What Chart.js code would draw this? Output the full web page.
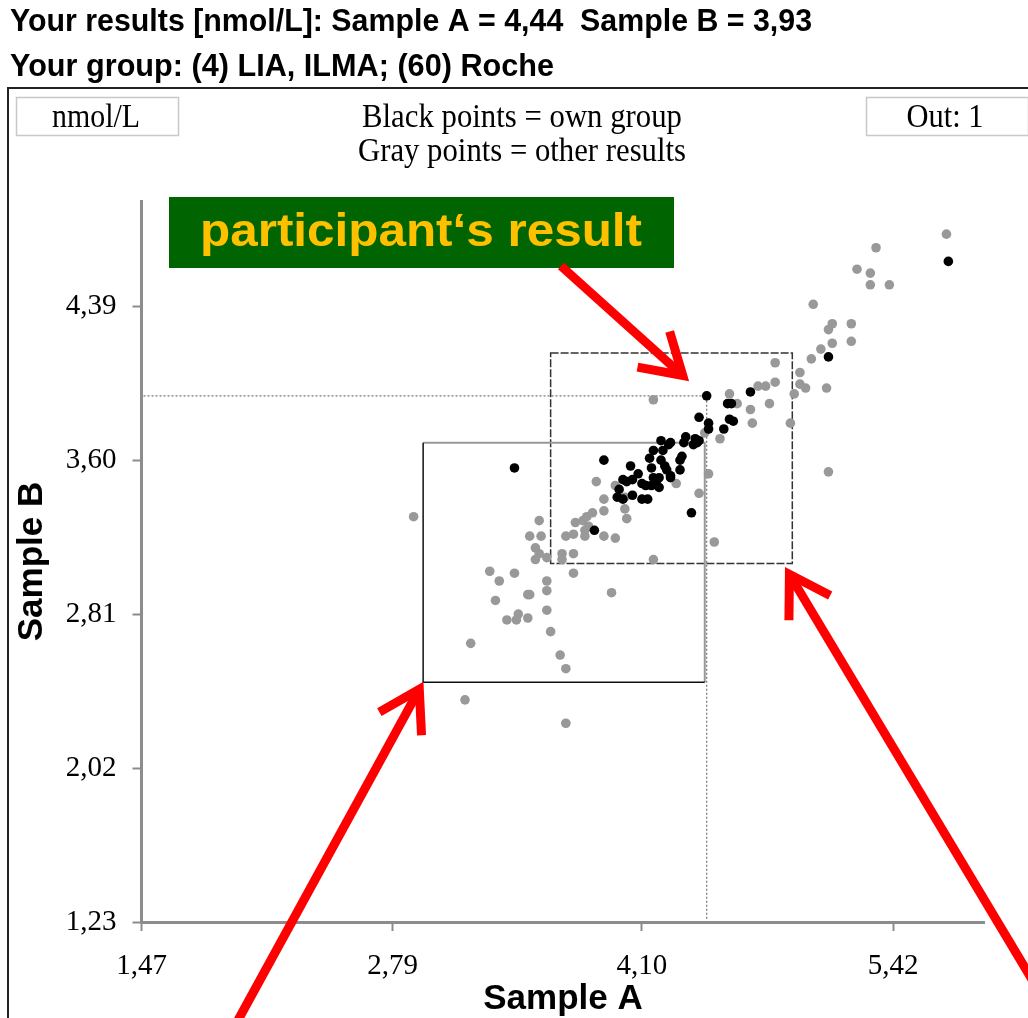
<!DOCTYPE html>
<html>
<head>
<meta charset="utf-8">
<script src="https://cdn.jsdelivr.net/npm/chart.js@4.4.0/dist/chart.umd.min.js"></script>
<style>
  html, body { margin: 0; padding: 0; background: #fff; }
  #wrap { width: 1028px; height: 1018px; }
</style>
</head>
<body>
<div id="wrap"><canvas id="scatter" width="1028" height="1018"></canvas></div>
<script>
// participant's own result
var resultA = 4.44;
var resultB = 3.93;

// own group (black points), Sample A / Sample B in nmol/L
var ownA = [3.43, 3.85, 3.90, 3.97, 4.00, 3.98, 4.00, 4.02, 4.05, 4.05,
            4.04, 4.08, 4.10, 4.12, 4.15, 4.10, 4.13, 4.16, 4.18, 4.19,
            4.19, 4.14, 4.15, 4.16, 4.20, 4.21, 4.20, 4.22, 4.23, 4.25,
            4.25, 4.24, 4.25, 4.30, 4.30, 4.31, 4.32, 4.33, 4.37, 4.38,
            4.39, 4.40, 4.36, 4.40, 4.45, 4.45, 4.53, 4.56, 4.58, 4.55,
            4.57, 4.67, 5.08, 5.71];
var ownB = [3.56, 3.24, 3.60, 3.41, 3.40, 3.45, 3.50, 3.49, 3.50, 3.42,
            3.57, 3.53, 3.48, 3.47, 3.47, 3.40, 3.40, 3.51, 3.50, 3.51,
            3.46, 3.61, 3.56, 3.65, 3.60, 3.65, 3.70, 3.57, 3.55, 3.52,
            3.51, 3.68, 3.69, 3.55, 3.60, 3.62, 3.69, 3.72, 3.68, 3.71,
            3.69, 3.70, 3.33, 3.82, 3.79, 3.76, 3.76, 3.81, 3.80, 3.89,
            3.89, 3.95, 4.13, 4.62];

// all other participants (gray points)
var otherA = [2.90, 3.17, 3.20, 3.30, 3.33, 3.35, 3.39, 3.43, 3.44, 3.45,
              3.50, 3.50, 3.51, 3.51, 3.56, 3.57, 3.54, 3.56, 3.54, 3.60,
              3.60, 3.60, 3.60, 3.62, 3.67, 3.70, 3.70, 3.68, 3.68, 3.74,
              3.74, 3.70, 3.74, 3.75, 3.79, 3.81, 3.84, 3.82, 3.80, 3.80,
              3.90, 3.96, 3.94, 3.90, 3.90, 3.86, 3.96, 4.01, 4.02, 4.01,
              4.16, 4.16, 4.28, 4.40, 4.45, 4.43, 4.51, 4.48, 4.56, 4.60,
              4.67, 4.68, 4.71, 4.75, 4.77, 4.80, 4.80, 4.88, 4.90, 4.93,
              4.93, 4.96, 4.99, 5.04, 5.07, 5.08, 5.08, 5.10, 5.10, 5.20,
              5.20, 5.00, 5.23, 5.30, 5.30, 5.40, 5.33, 5.70];
var otherB = [3.31, 2.37, 2.66, 3.03, 2.88, 2.98, 2.78, 3.02, 2.78, 2.81,
              2.79, 2.91, 2.91, 3.21, 3.29, 3.21, 3.15, 3.12, 3.09, 3.10,
              2.98, 2.93, 2.83, 2.72, 2.60, 2.53, 2.25, 3.12, 3.09, 3.12,
              3.02, 3.21, 3.22, 3.28, 3.29, 3.31, 3.33, 3.26, 3.24, 3.21,
              3.21, 3.20, 2.92, 3.34, 3.40, 3.49, 3.47, 3.35, 3.30, 3.41,
              3.91, 3.09, 3.48, 3.43, 3.53, 3.74, 3.71, 3.18, 3.94, 3.89,
              3.86, 3.79, 3.98, 3.98, 3.89, 4.00, 4.10, 3.79, 3.94, 4.05,
              3.99, 3.97, 4.12, 4.17, 3.97, 3.54, 4.27, 4.30, 4.20, 4.30,
              4.21, 4.40, 4.58, 4.56, 4.50, 4.50, 4.69, 4.76];

var xTicks = [1.47, 2.79, 4.10, 5.42];
var yTicks = [1.23, 2.02, 2.81, 3.60, 4.39];

// limit boxes: [A min, A max, B min, B max]
var solidBox = [2.95, 4.43, 2.46, 3.69];
var dashedBox = [3.62, 4.89, 3.07, 4.15];

var headerLines = ['Your results [nmol/L]: Sample A = ' + fmt(resultA) + '  Sample B = ' + fmt(resultB),
                   'Your group: (4) LIA, ILMA; (60) Roche'];
var legendLines = ['Black points = own group', 'Gray points = other results'];
var unitLabel = 'nmol/L';
var outLabel = 'Out: 1';
var calloutText = 'participant\u2018s result';

function fmt(v) { return v.toFixed(2).replace('.', ','); }

function pairs(a, b) {
  return a.map(function (v, i) { return { x: v, y: b[i] }; });
}

// draws text stretched/squeezed to an exact width
function fitText(ctx, text, x, y, width, align) {
  var w = ctx.measureText(text).width;
  ctx.save();
  ctx.translate(x, y);
  ctx.scale(width / w, 1);
  ctx.textAlign = align;
  ctx.textBaseline = 'middle';
  ctx.fillText(text, 0, 0);
  ctx.restore();
}

function arrow(ctx, x0, y0, x1, y1) {
  var a = Math.atan2(y1 - y0, x1 - x0);
  var len = 46, spread = 0.55;
  // pull the path back so the mitred point lands on the tip
  x1 -= 8 * Math.cos(a); y1 -= 8 * Math.sin(a);
  ctx.beginPath();
  ctx.moveTo(x0, y0);
  ctx.lineTo(x1 - 6 * Math.cos(a), y1 - 6 * Math.sin(a));
  ctx.stroke();
  ctx.beginPath();
  ctx.moveTo(x1 - len * Math.cos(a - spread), y1 - len * Math.sin(a - spread));
  ctx.lineTo(x1, y1);
  ctx.lineTo(x1 - len * Math.cos(a + spread), y1 - len * Math.sin(a + spread));
  ctx.stroke();
}

var decorations = {
  id: 'decorations',
  beforeDraw: function (chart) {
    var ctx = chart.ctx;
    ctx.save();
    ctx.fillStyle = '#fff';
    ctx.fillRect(0, 0, chart.width, chart.height);
    ctx.strokeStyle = '#222';
    ctx.lineWidth = 2;
    ctx.strokeRect(8, 88, 1100, 1000);

    ctx.fillStyle = '#000';
    ctx.font = 'bold 32px "Liberation Sans", Arial, sans-serif';
    fitText(ctx, headerLines[0], 10, 22, 802, 'left');
    fitText(ctx, headerLines[1], 10, 67, 544, 'left');

    ctx.strokeStyle = '#c8c8c8';
    ctx.lineWidth = 1.5;
    ctx.strokeRect(16.5, 97.5, 162, 38);
    ctx.strokeRect(866.5, 97.5, 162, 38);
    ctx.font = '33px "Liberation Serif", "Times New Roman", serif';
    fitText(ctx, unitLabel, 96, 118, 88, 'center');
    fitText(ctx, outLabel, 945, 118, 77, 'center');
    fitText(ctx, legendLines[0], 522, 118, 320, 'center');
    fitText(ctx, legendLines[1], 522, 152, 328, 'center');
    ctx.restore();
  },
  beforeDatasetsDraw: function (chart) {
    var ctx = chart.ctx, sx = chart.scales.x, sy = chart.scales.y;
    var px = function (v) { return sx.getPixelForValue(v); };
    var py = function (v) { return sy.getPixelForValue(v); };
    var area = chart.chartArea;
    ctx.save();

    // dotted guides to the participant's result
    ctx.strokeStyle = '#777';
    ctx.lineWidth = 1.2;
    ctx.setLineDash([2, 2]);
    ctx.beginPath();
    ctx.moveTo(area.left + 2, py(resultB));
    ctx.lineTo(px(resultA), py(resultB));
    ctx.lineTo(px(resultA), area.bottom - 2);
    ctx.stroke();

    // dashed box
    ctx.strokeStyle = '#333';
    ctx.lineWidth = 1.5;
    ctx.setLineDash([8, 2]);
    ctx.strokeRect(px(dashedBox[0]), py(dashedBox[3]),
                   px(dashedBox[1]) - px(dashedBox[0]), py(dashedBox[2]) - py(dashedBox[3]));

    // solid box: top and right edges gray, the others black
    ctx.setLineDash([]);
    var l = px(solidBox[0]), r = px(solidBox[1]), t = py(solidBox[3]), b = py(solidBox[2]);
    ctx.strokeStyle = '#999';
    ctx.lineWidth = 2;
    ctx.beginPath();
    ctx.moveTo(l, t); ctx.lineTo(r, t); ctx.lineTo(r, b);
    ctx.stroke();
    ctx.strokeStyle = '#111';
    ctx.lineWidth = 1.5;
    ctx.beginPath();
    ctx.moveTo(l, t); ctx.lineTo(l, b); ctx.lineTo(r, b);
    ctx.stroke();
    ctx.restore();
  },
  afterDraw: function (chart) {
    var ctx = chart.ctx, sx = chart.scales.x, sy = chart.scales.y;
    var px = function (v) { return sx.getPixelForValue(v); };
    var py = function (v) { return sy.getPixelForValue(v); };
    ctx.save();

    // callout label
    ctx.fillStyle = '#006400';
    ctx.fillRect(169, 197, 505, 71);
    ctx.fillStyle = '#FFC000';
    ctx.font = 'bold 46px "Liberation Sans", Arial, sans-serif';
    fitText(ctx, calloutText, 421, 233, 442, 'center');

    // red arrows
    ctx.strokeStyle = '#FF0000';
    ctx.lineWidth = 9;
    ctx.lineJoin = 'miter';
    ctx.lineCap = 'butt';
    arrow(ctx, 561, 266, px(resultA) - 18, py(resultB) - 15);
    arrow(ctx, 237, 1022, px(solidBox[0]), py(solidBox[2]));
    arrow(ctx, 1036, 986, px(dashedBox[1]) - 7, py(dashedBox[2]) + 4);
    ctx.restore();
  }
};

var axisGray = '#8c8c8c';
var tickFont = { family: '"Liberation Serif", "Times New Roman", serif', size: 29 };
var titleFont = { family: '"Liberation Sans", Arial, sans-serif', size: 35, weight: 'bold' };

new Chart(document.getElementById('scatter'), {
  type: 'scatter',
  data: {
    datasets: [
      {
        label: 'own group',
        data: pairs(ownA.concat([resultA]), ownB.concat([resultB])),
        backgroundColor: '#000',
        borderWidth: 0,
        pointRadius: 4.8,
        order: 0
      },
      {
        label: 'other results',
        data: pairs(otherA, otherB),
        backgroundColor: '#999',
        borderWidth: 0,
        pointRadius: 4.8,
        order: 1
      }
    ]
  },
  options: {
    responsive: false,
    animation: false,
    devicePixelRatio: 1,
    layout: { padding: { left: 0, top: 201, right: 43.5, bottom: 0 } },
    plugins: {
      legend: { display: false },
      tooltip: { enabled: false }
    },
    scales: {
      x: {
        type: 'linear',
        min: 1.47,
        max: 5.90,
        afterBuildTicks: function (axis) {
          axis.ticks = xTicks.map(function (v) { return { value: v }; });
        },
        afterFit: function (axis) { axis.height = 96; },
        ticks: {
          autoSkip: false,
          maxRotation: 0,
          padding: 18,
          color: '#000',
          font: tickFont,
          callback: function (v) { return fmt(v); }
        },
        grid: {
          drawOnChartArea: false,
          drawTicks: true,
          tickLength: 9,
          tickColor: axisGray,
          tickWidth: 2
        },
        border: { display: true, color: axisGray, width: 3 },
        title: {
          display: true,
          text: 'Sample A',
          color: '#000',
          font: titleFont,
          padding: { top: 0, bottom: -2 }
        }
      },
      y: {
        type: 'linear',
        min: 1.23,
        max: 4.93,
        afterBuildTicks: function (axis) {
          axis.ticks = yTicks.map(function (v) { return { value: v }; });
        },
        afterFit: function (axis) { axis.width = 141.5; },
        ticks: {
          autoSkip: false,
          padding: 16,
          color: '#000',
          font: tickFont,
          callback: function (v) { return fmt(v); }
        },
        grid: {
          drawOnChartArea: false,
          drawTicks: true,
          tickLength: 9,
          tickColor: axisGray,
          tickWidth: 2
        },
        border: { display: true, color: axisGray, width: 3 },
        title: {
          display: true,
          text: 'Sample B',
          color: '#000',
          font: titleFont,
          padding: { top: 11, bottom: 0 }
        }
      }
    }
  },
  plugins: [decorations]
});
</script>
</body>
</html>
